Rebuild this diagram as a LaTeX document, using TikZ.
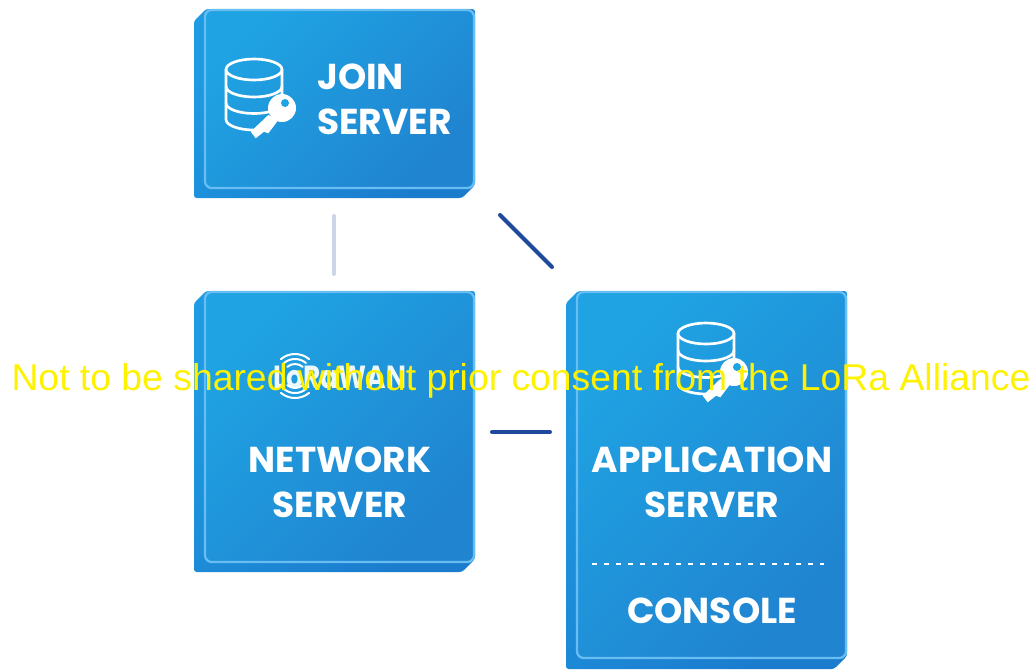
\documentclass[tikz,border=0pt]{standalone}
\usepackage{fontspec}
\setmainfont{Poppins}
\newfontfamily\noticefont{Liberation Sans}
\usetikzlibrary{positioning}

\definecolor{faceA}{HTML}{1FA3E3}
\definecolor{faceB}{HTML}{2084D0}
\definecolor{backA}{HTML}{1E9BE2}
\definecolor{backB}{HTML}{1B7CCE}
\definecolor{rimblue}{HTML}{68BDF2}
\definecolor{darkline}{HTML}{1F4A9C}
\definecolor{paleline}{HTML}{CBD5E6}

\tikzset{
	backbox/.style={rounded corners=2pt,top color=backA,bottom color=backB,shading angle=45},
	facebox/.style={rectangle,rounded corners=5pt,inner sep=0pt,outer sep=0pt,draw=rimblue,line width=1.7pt,
		top color=faceA,bottom color=faceB,shading angle=45,anchor=north west},
	title/.style={text=white,font=\fontsize{27pt}{27pt}\bfseries\selectfont,inner sep=0pt},
	link/.style={line width=3pt,line cap=round},
	dbkey/.pic={
		\draw[white,line width=2pt] (0,10.5) ellipse [x radius=28,y radius=10.5];
		\draw[white,line width=2pt] (28,10.5) -- (28,42) (-28,10.5) -- (-28,60.5) arc[start angle=180,end angle=90,x radius=28,y radius=10.5];
		\draw[white,line width=2pt] (-28,27.5) arc[start angle=180,end angle=0,x radius=28,y radius=10.5];
		\draw[white,line width=2pt] (-28,44) arc[start angle=180,end angle=50,x radius=28,y radius=10.5];
		\fill[white] (28,49) circle (14);
		\fill[white] (14.3,56) -- (-3.3,72.7) -- (1.7,79.3) -- (10,72.7) -- (14.3,74.3) -- (19.3,67.7) -- (24.3,61) -- cycle;
		\fill[faceA] (31,44) circle (4);
	},
}

\begin{document}
\begin{tikzpicture}[x=0.75pt,y=-0.75pt]
	\useasboundingbox (0,0) rectangle (1035,669);
	% boxes
	\foreach \bx/\by/\bh in {194/9/189,194/291/281,566/291/378}
		\shade[backbox] (\bx,\by+12) -- (\bx+12,\by) -- (\bx+281,\by) -- (\bx+281,\by+\bh-13) -- (\bx+268,\by+\bh) -- (\bx,\by+\bh) -- cycle;
	\node[facebox,minimum width=201.75pt,minimum height=133.5pt] (js) at (205,10) {};
	\node[facebox,minimum width=201.75pt,minimum height=202.5pt] (ns) at (205,292) {};
	\node[facebox,minimum width=201.75pt,minimum height=274.5pt] (as) at (577,292) {};
	% links
	\coordinate (jsns) at (334,216);
	\coordinate (nsjs) at (334,274);
	\coordinate (jsas) at (500,215);
	\coordinate (asjs) at (552,267);
	\coordinate (nsas) at (492,432);
	\coordinate (asns) at (550,432);
	\draw[link,paleline] (jsns) -- (nsjs);
	\draw[link,darkline] (jsas) -- (asjs);
	\draw[link,darkline] (nsas) -- (asns);
	% labels
	\pic at (254,59) {dbkey};
	\pic at (706,323) {dbkey};
	\node[title,anchor=west] (jointxt) at (317,77) {JOIN};
	\node[title,anchor=west] (jsrv) at (317,122) {SERVER};
	\node[title,xscale=.83,font=\fontsize{24pt}{24pt}\bfseries\selectfont,text=white!92!faceA] (lorawan) at (340,377) {LoRaWAN};
	\foreach \r in {12,17,22} {
		\draw[white,line width=1.5pt,line cap=round] (295,376) ++(50:\r) arc[start angle=50,end angle=130,radius=\r];
		\draw[white,line width=1.5pt,line cap=round] (295,376) ++(-50:\r) arc[start angle=-50,end angle=-130,radius=\r];
	}
	\node[title] (nettxt) at (340,460) {NETWORK};
	\node[title] (nsrv) at (340,505) {SERVER};
	\node[title] (apptxt) at (712,460) {APPLICATION};
	\node[title] (asrv) at (712,505) {SERVER};
	\node[title] (constxt) at (712,611) {CONSOLE};
	\draw[white,line width=1.8pt,dash pattern=on 3.7pt off 5.3pt] (592,564) -- (824,564);
	\node[text=yellow,font=\fontsize{28pt}{28pt}\noticefont,inner sep=0pt] (notice) at (521,381) {Not to be shared without prior consent from the LoRa Alliance};
\end{tikzpicture}
\end{document}
